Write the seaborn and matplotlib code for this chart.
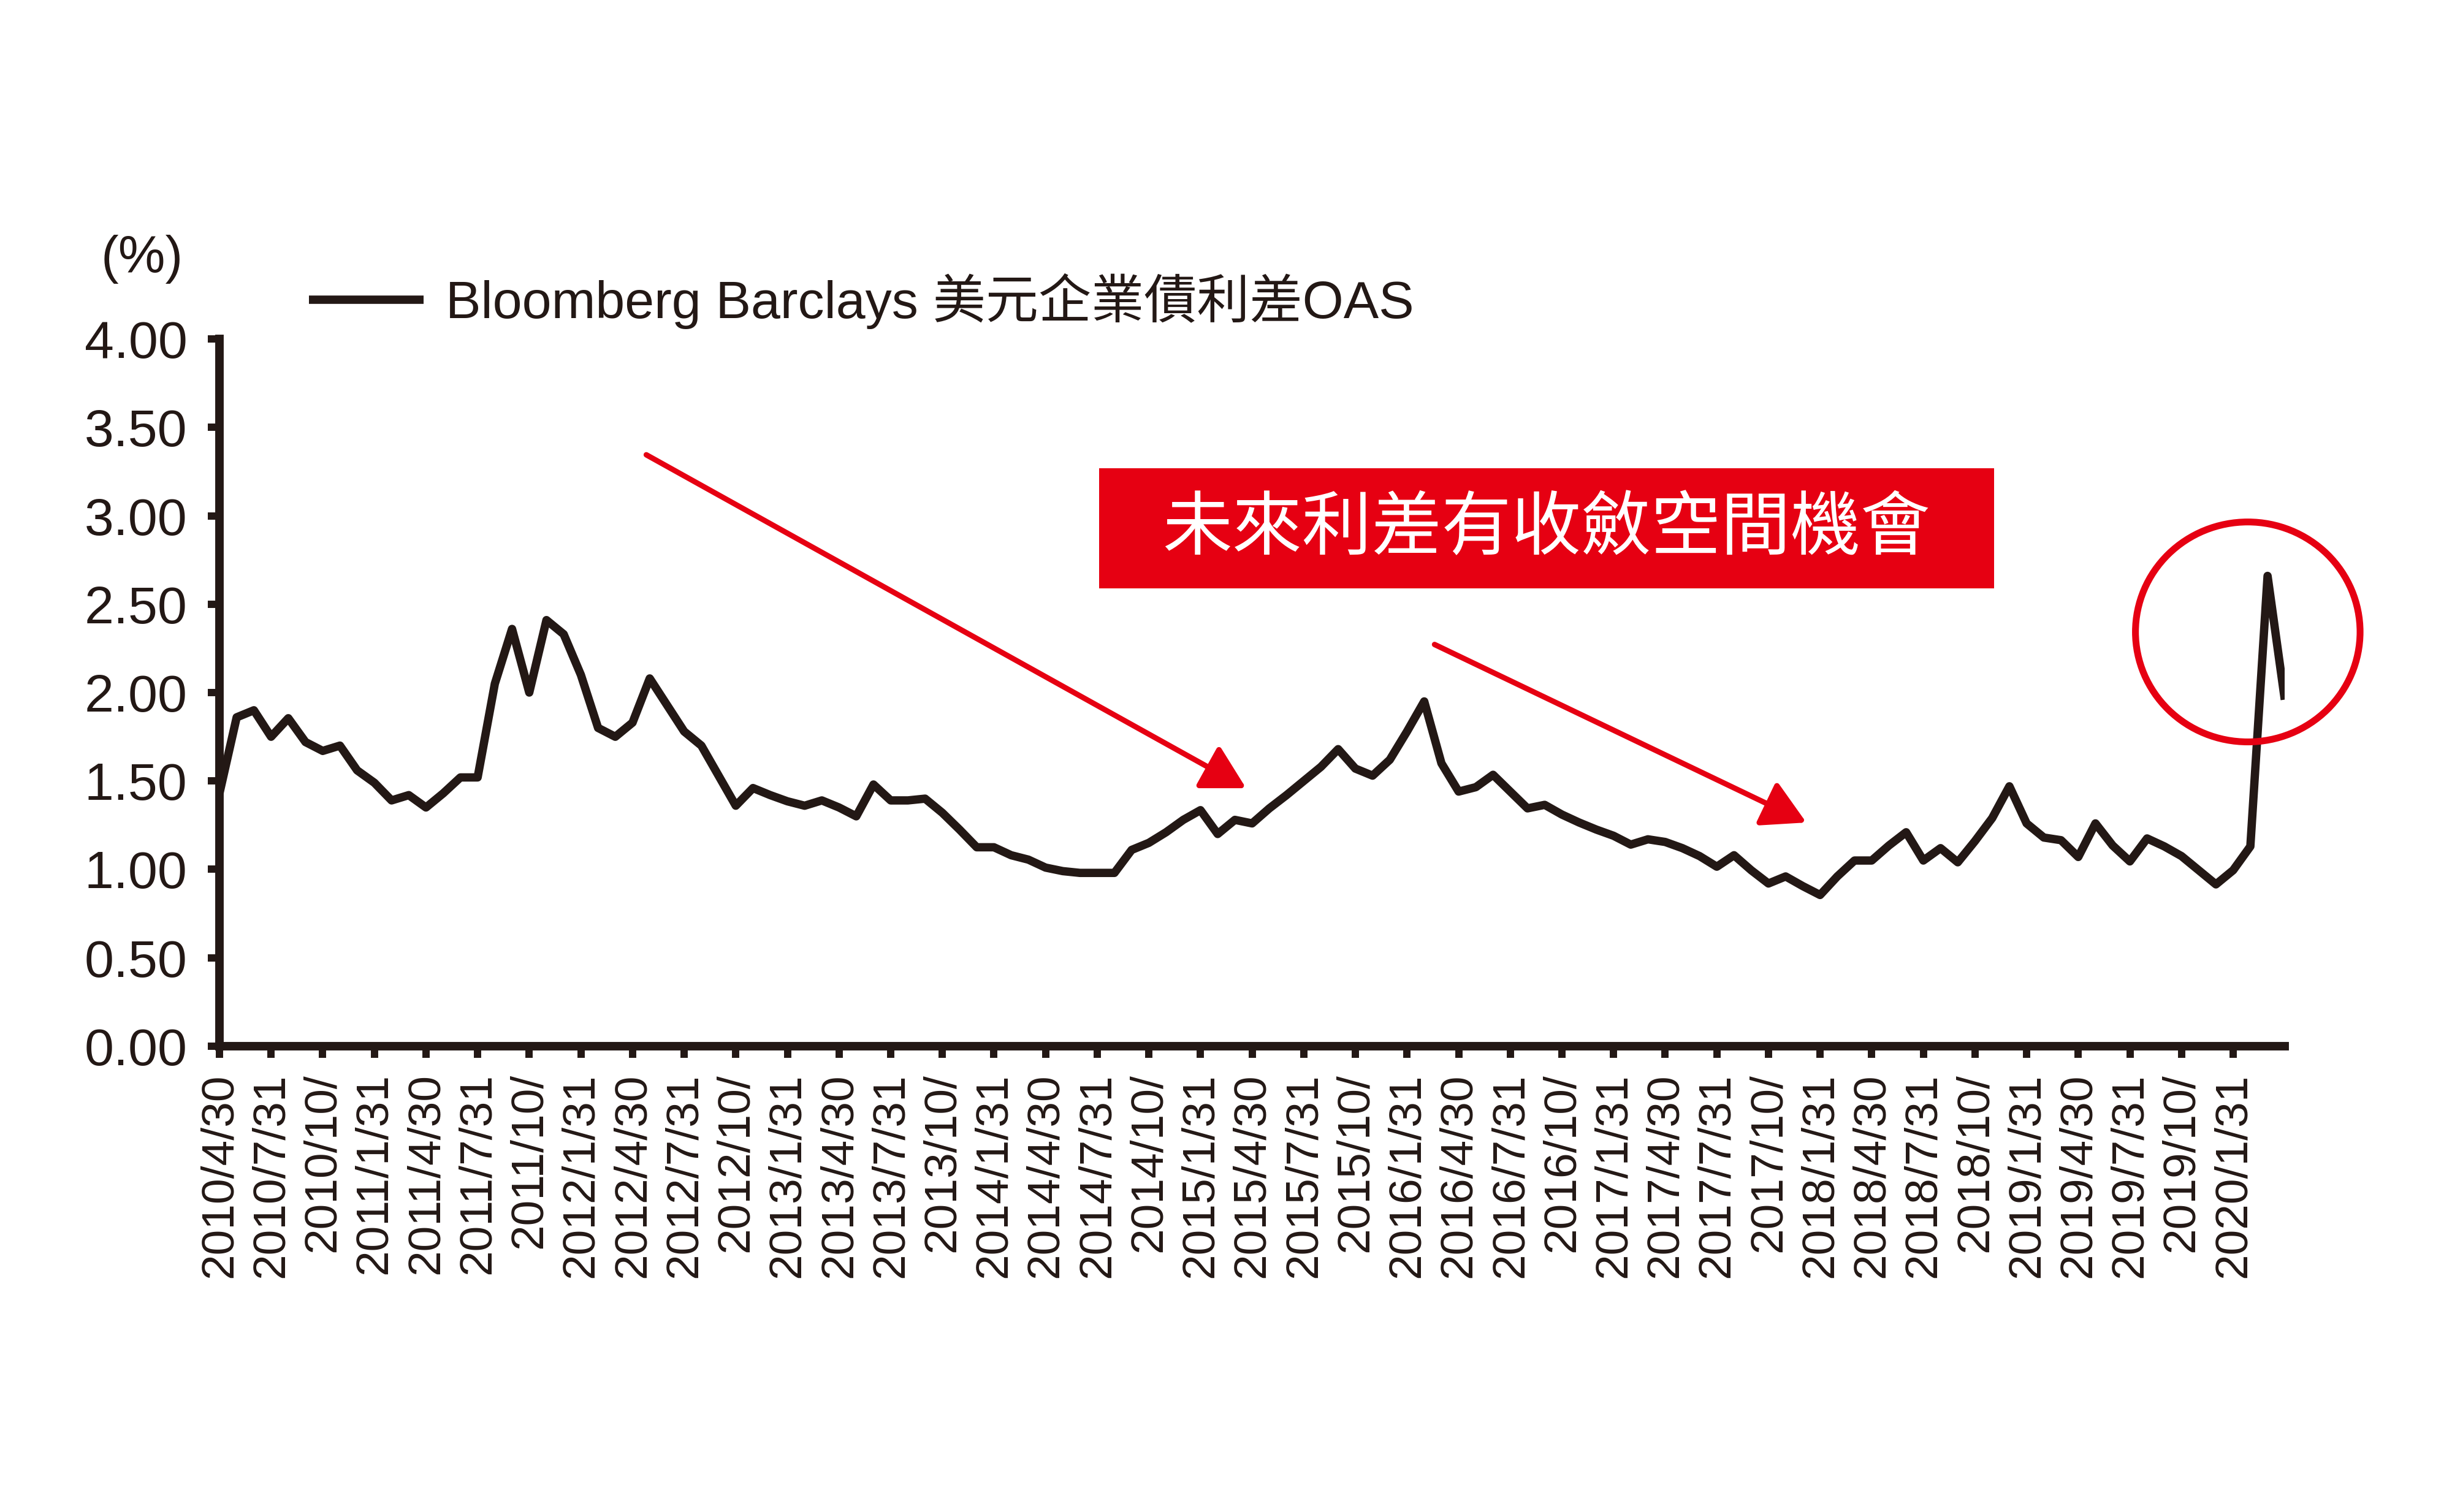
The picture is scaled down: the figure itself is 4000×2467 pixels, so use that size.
import numpy as np
import pandas as pd
import matplotlib
matplotlib.use("Agg")
import matplotlib.pyplot as plt
from matplotlib.patches import Ellipse, Rectangle
import seaborn as sns

# Bloomberg Barclays US corporate OAS (%), month ends 2010/4 .. 2020/4
oas = [1.43, 1.86, 1.90, 1.75, 1.855, 1.72, 1.67, 1.70, 1.56, 1.49,
       1.39, 1.42, 1.35, 1.43, 1.52, 1.52, 2.05, 2.36, 2.00, 2.41,
       2.33, 2.10, 1.80, 1.75, 1.83, 2.08, 1.93, 1.78, 1.70, 1.53,
       1.36, 1.46, 1.42, 1.385, 1.36, 1.39, 1.35, 1.30, 1.48, 1.39,
       1.39, 1.40, 1.32, 1.225, 1.125, 1.125, 1.08, 1.055, 1.01, 0.99,
       0.98, 0.98, 0.98, 1.11, 1.15, 1.21, 1.28, 1.335, 1.20, 1.28,
       1.26, 1.345, 1.42, 1.50, 1.58, 1.68, 1.57, 1.53, 1.62, 1.78,
       1.95, 1.60, 1.44, 1.465, 1.535, 1.44, 1.345, 1.365, 1.31, 1.265,
       1.225, 1.19, 1.14, 1.17, 1.155, 1.12, 1.075, 1.015, 1.08, 0.995,
       0.92, 0.96, 0.905, 0.855, 0.96, 1.05, 1.05, 1.135, 1.21, 1.05,
       1.12, 1.04, 1.16, 1.29, 1.47, 1.26, 1.18, 1.165, 1.07, 1.26,
       1.135, 1.045, 1.175, 1.13, 1.075, 0.995, 0.915, 0.995, 1.13, 2.66,
       1.96]

tick_labels = ["2010/4/30", "2010/7/31", "2010/10/",
               "2011/1/31", "2011/4/30", "2011/7/31", "2011/10/",
               "2012/1/31", "2012/4/30", "2012/7/31", "2012/10/",
               "2013/1/31", "2013/4/30", "2013/7/31", "2013/10/",
               "2014/1/31", "2014/4/30", "2014/7/31", "2014/10/",
               "2015/1/31", "2015/4/30", "2015/7/31", "2015/10/",
               "2016/1/31", "2016/4/30", "2016/7/31", "2016/10/",
               "2017/1/31", "2017/4/30", "2017/7/31", "2017/10/",
               "2018/1/31", "2018/4/30", "2018/7/31", "2018/10/",
               "2019/1/31", "2019/4/30", "2019/7/31", "2019/10/",
               "2020/1/31"]
y_ticks = [0.0, 0.5, 1.0, 1.5, 2.0, 2.5, 3.0, 3.5, 4.0]

legend_label = "Bloomberg Barclays 美元企業債利差OAS"
callout = "未來利差有收斂空間機會"

df = pd.DataFrame({"month": np.arange(len(oas)), "oas": oas})

sns.set_style("ticks")
plt.rcParams["font.family"] = ["Liberation Sans", "Noto Sans CJK TC", "DejaVu Sans"]

ink = "#231815"
red = "#e60012"

fig = plt.figure(figsize=(20, 12.335), dpi=200)
ax = fig.add_axes([0.0895, 0.3081, 0.8423, 0.4677])

sns.lineplot(data=df, x="month", y="oas", ax=ax, color=ink,
             linewidth=4.9, label=legend_label)
ax.lines[0].set_solid_joinstyle("round")
ax.lines[0].set_solid_capstyle("butt")

ax.set_xlim(0, 120)
ax.set_ylim(0, 4)
ax.set_xlabel("")
ax.set_ylabel("")

ax.set_xticks(np.arange(0, 3 * len(tick_labels), 3))
ax.set_xticklabels(tick_labels, rotation=90)
ax.set_yticks(y_ticks)
ax.set_yticklabels([f"{v:.2f}" for v in y_ticks])

sns.despine(ax=ax)
for s in ["left", "bottom"]:
    ax.spines[s].set_linewidth(5)
    ax.spines[s].set_color(ink)
ax.tick_params(axis="both", direction="out", length=6.9, width=4.3,
               color=ink, labelcolor=ink)
ax.tick_params(axis="y", labelsize=31, pad=12)
ax.tick_params(axis="x", labelsize=27, pad=9)

ax.legend(loc="center left", bbox_to_anchor=(0.126, 0.8006),
          bbox_transform=fig.transFigure, frameon=False, fontsize=31,
          handlelength=2.17, handletextpad=0.42, borderpad=0,
          borderaxespad=0, labelcolor=ink)

fig.text(0.058, 0.8285, "(%)", ha="center", va="center",
         fontsize=31, color=ink)

# red call-out box
ax.add_patch(Rectangle((51.1, 2.589), 52.0, 0.68, facecolor=red,
                       edgecolor="none", zorder=3))
ax.text(77.1, 2.925, callout, ha="center", va="center", color="white",
        fontsize=41, zorder=4, family=["Noto Sans CJK TC", "DejaVu Sans"])

# arrows
arrow_style = dict(arrowstyle="-|>,head_length=1.08,head_width=0.6",
                   color=red, lw=3.2, shrinkA=0, shrinkB=0,
                   mutation_scale=20)
ax.annotate("", xy=(59.65, 1.459), xytext=(24.8, 3.345),
            arrowprops=arrow_style)
ax.annotate("", xy=(92.2, 1.265), xytext=(70.6, 2.272),
            arrowprops=arrow_style)

# circle round the 2020 spike
ax.add_patch(Ellipse((117.85, 2.343), 13.05, 1.244, facecolor="none",
                     edgecolor=red, lw=4, clip_on=False, zorder=5))

fig.savefig("out.png", dpi=200, facecolor="white")
